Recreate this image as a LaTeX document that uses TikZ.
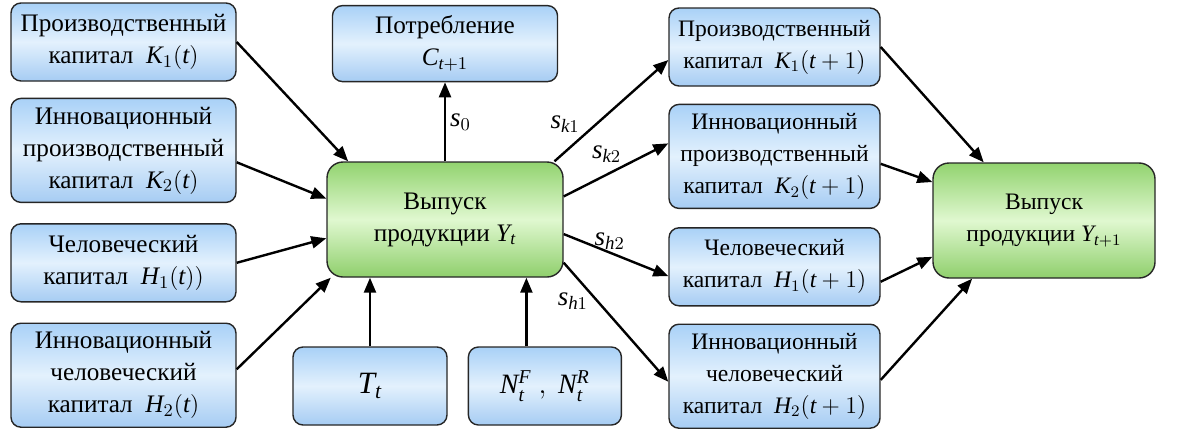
\documentclass[tikz,border=0pt]{standalone}
\usepackage{fontspec}
\setmainfont{Liberation Serif}
\usetikzlibrary{positioning,arrows.meta}

\definecolor{boxtop}{HTML}{A9D1F7}
\definecolor{boxmid}{HTML}{E3F1FD}
\definecolor{boxbot}{HTML}{A6CCF3}
\definecolor{outtop}{HTML}{92D36F}
\definecolor{outmid}{HTML}{E0F8D0}
\definecolor{outbot}{HTML}{8FCF6C}

\newcommand{\vr}[1]{\mathit{#1}}

\begin{document}
\begin{tikzpicture}[node distance=9pt, >={Triangle[length=7.5pt,width=6pt]},
    capbox/.style={draw=black!85, line width=0.7pt, rounded corners=5pt,
        top color=boxtop, bottom color=boxbot, middle color=boxmid,
        align=center, inner sep=2pt, minimum height=39pt},
    leftbox/.style={capbox, minimum width=112.5pt, font=\fontsize{12.6}{16}\selectfont},
    rightbox/.style={capbox, minimum width=105.5pt, font=\fontsize{11.8}{16}\selectfont},
    tall/.style={minimum height=52pt},
    outbox/.style={draw=black!85, line width=0.7pt, rounded corners=8pt,
        top color=outtop, bottom color=outbot, middle color=outmid,
        align=center, inner sep=2pt, minimum height=57.5pt},
    flow/.style={->, line width=1.2pt},
    share/.style={font=\fontsize{13.5}{14}\selectfont, inner sep=1pt}]
    \useasboundingbox (0,0) rectangle (598.5pt,-214pt);

    % capital at time t
    \node (K1) [leftbox] at (61.75pt,-21pt) {Производственный\\капитал \ $\vr{K}_1(\vr{t})$};
    \node (K2) [leftbox, tall, below=8pt of K1] {Инновационный\\производственный\\капитал \ $\vr{K}_2(\vr{t})$};
    \node (H1) [leftbox, below=10pt of K2] {Человеческий\\капитал \ $\vr{H}_1(\vr{t}))$};
    \node (H2) [leftbox, tall, below=10pt of H1] {Инновационный\\человеческий\\капитал \ $\vr{H}_2(\vr{t})$};

    % output at time t
    \node (Y) [outbox, minimum width=118pt, font=\fontsize{12.6}{16}\selectfont] at (222.5pt,-109.75pt) {Выпуск\\продукции $\vr{Y}_{\vr{t}}$};
    \node (C) [leftbox, minimum height=38pt, above=39.5pt of Y] {Потребление\\$\vr{C}_{\vr{t}+1}$};
    \node (T) [leftbox, minimum width=77pt] at (185pt,-193pt) {\fontsize{15.5}{16}\selectfont$\vr{T}_{\vr{t}}$};
    \node (N) [leftbox, minimum width=76.5pt, right=10pt of T] {\fontsize{14}{16}\selectfont$\vr{N}_{\vr{t}}^{\vr{F}}\ ,\ \vr{N}_{\vr{t}}^{\vr{R}}$};

    % capital at time t+1
    \node (K1n) [rightbox] at (387.25pt,-23.5pt) {Производственный\\капитал \ $\vr{K}_1(\vr{t}+1)$};
    \node (K2n) [rightbox, tall, below=8.5pt of K1n] {Инновационный\\производственный\\капитал \ $\vr{K}_2(\vr{t}+1)$};
    \node (H1n) [rightbox, below=9pt of K2n] {Человеческий\\капитал \ $\vr{H}_1(\vr{t}+1)$};
    \node (H2n) [rightbox, tall, below=8.5pt of H1n] {Инновационный\\человеческий\\капитал \ $\vr{H}_2(\vr{t}+1)$};

    % output at time t+1
    \node (Yn) [outbox, minimum width=111pt, font=\fontsize{11.8}{16}\selectfont] at (522pt,-110.25pt) {Выпуск\\продукции $\vr{Y}_{\vr{t}+1}$};

    % inputs
    \draw[flow] (K1.east) -- (Y.149);
    \draw[flow] (K2.-6) -- (Y.170);
    \draw[flow] (H1.east) -- (Y.189);
    \draw[flow] (H2.3) -- (Y.207);
    \coordinate (Nin) at ([xshift=-9.25pt]N.north);
    \draw[flow] (T.north) -- (T.north |- Y.south);
    \draw[flow] (Nin) -- (Nin |- Y.south);

    % shares of output
    \draw[flow] (Y.north) -- node[share, pos=0.5, right, inner sep=2pt] {$\vr{s}_0$} (C.south);
    \draw[flow] (Y.28) -- node[share, pos=0.25, anchor=south east] {$\vr{s}_{\vr{k}1}$} (K1n.187);
    \draw[flow] (Y.11) -- node[share, pos=0.58, anchor=south east] {$\vr{s}_{\vr{k}2}$} (K2n.173);
    \draw[flow] (Y.-7) -- node[share, pos=0.44, anchor=south] {$\vr{s}_{\vr{h}2}$} (H1n.185);
    \draw[flow] (Y.-20) -- node[share, pos=0.32, anchor=east, xshift=-3pt] {$\vr{s}_{\vr{h}1}$} (H2n.183);

    % next period
    \draw[flow] (K1n.east) -- (Yn.136);
    \draw[flow] (K2n.-4) -- (Yn.161);
    \draw[flow] (H1n.-8) -- (Yn.198);
    \draw[flow] (H2n.-2) -- (Yn.219);
\end{tikzpicture}
\end{document}
